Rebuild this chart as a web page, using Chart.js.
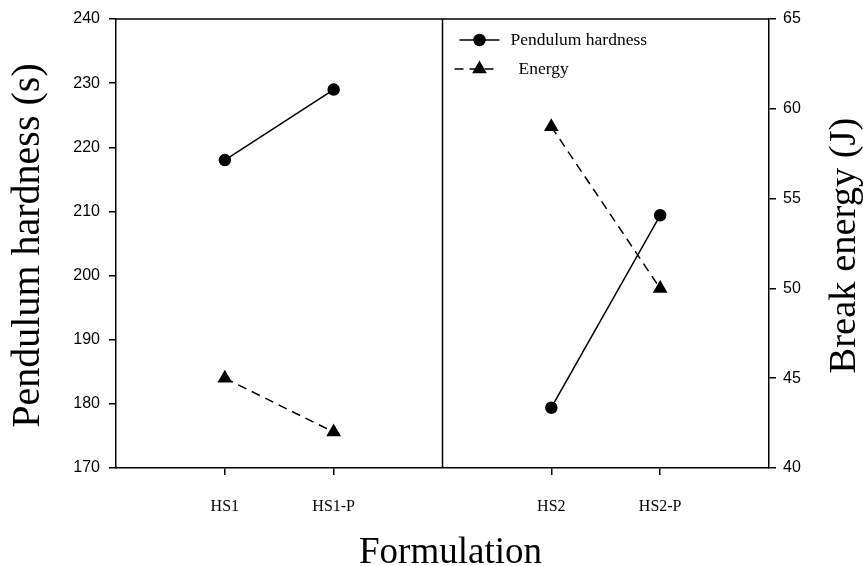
<!DOCTYPE html>
<html>
<head>
<meta charset="utf-8">
<script src="https://cdn.jsdelivr.net/npm/chart.js@4"></script>
<style>
    html, body { margin: 0; padding: 0; background: #fff; }
    #wrap { width: 863px; height: 566px; }
</style>
</head>
<body>
<div id="wrap"><canvas id="chart" width="863" height="566"></canvas></div>
<script>
// --- data ---
const categories = ['HS1', 'HS1-P', 'HS2', 'HS2-P'];
const pendulumHardness = [218, 229, 179.4, 209.4];   // left axis (s)
const breakEnergy = [45, 42, 59, 50];                 // right axis (J)
const hardnessTicks = [170, 180, 190, 200, 210, 220, 230, 240];
const energyTicks = [40, 45, 50, 55, 60, 65];

// two groups of formulations with an empty slot between them (and at both ends)
const slotLabels = ['', categories[0], categories[1], '', categories[2], categories[3], ''];
const dividerIndex = 3;

function toSlots(values) {
    return [null, values[0], values[1], null, values[2], values[3], null];
}

const serif = 'Liberation Serif';
const sans = 'Liberation Sans';

// top border, middle divider, legend and axis titles (both y titles read bottom-to-top)
const framePlugin = {
    id: 'frame',
    afterDatasetsDraw(chart) {
        const { ctx, chartArea: a, scales: { x } } = chart;
        const divX = x.getPixelForValue(dividerIndex);
        const midY = (a.top + a.bottom) / 2 + 2;
        ctx.save();
        ctx.strokeStyle = '#000';
        ctx.lineWidth = 1.5;
        ctx.beginPath();
        ctx.moveTo(a.left, a.top);
        ctx.lineTo(a.right, a.top);
        ctx.moveTo(divX, a.top);
        ctx.lineTo(divX, a.bottom);
        ctx.stroke();

        // legend
        const items = [
            { text: 'Pendulum hardness', dash: [], style: 'circle', r: 5.5, y: a.top + 21, x0: divX + 17, tx: divX + 68 },
            { text: 'Energy', dash: [9, 6], style: 'triangle', r: 7, y: a.top + 50, x0: divX + 12, tx: divX + 76 }
        ];
        ctx.font = '17.5px "' + serif + '"';
        ctx.textBaseline = 'middle';
        ctx.fillStyle = '#000';
        items.forEach(it => {
            ctx.setLineDash(it.dash);
            ctx.lineWidth = 1.5;
            ctx.beginPath();
            ctx.moveTo(it.x0, it.y);
            ctx.lineTo(divX + 57, it.y);
            ctx.stroke();
            ctx.setLineDash([]);
            Chart.helpers.drawPoint(ctx, { pointStyle: it.style, radius: it.r, rotation: 0, borderWidth: 1 }, divX + 37, it.y);
            ctx.fill();
            ctx.fillText(it.text, it.tx, it.y);
        });

        // axis titles
        ctx.textBaseline = 'alphabetic';
        ctx.textAlign = 'center';
        ctx.font = '37px "' + serif + '"';
        ctx.fillText('Formulation', (a.left + a.right) / 2 + 8, chart.height - 3);

        ctx.save();
        ctx.translate(39, midY);
        ctx.rotate(-Math.PI / 2);
        ctx.font = '40px "' + serif + '"';
        ctx.fillText('Pendulum hardness (s)', 0, 0);
        ctx.restore();

        ctx.translate(chart.width - 8, midY);
        ctx.rotate(-Math.PI / 2);
        ctx.font = '38.5px "' + serif + '"';
        ctx.fillText('Break energy (J)', 0, 0);
        ctx.restore();
    }
};

const ctx = document.getElementById('chart').getContext('2d');
new Chart(ctx, {
    type: 'line',
    data: {
        labels: slotLabels,
        datasets: [
            {
                label: 'Pendulum hardness',
                data: toSlots(pendulumHardness),
                yAxisID: 'y',
                borderColor: '#000',
                backgroundColor: '#000',
                borderWidth: 1.5,
                pointStyle: 'circle',
                pointRadius: 5.5,
                spanGaps: false,
                tension: 0
            },
            {
                label: 'Energy',
                data: toSlots(breakEnergy),
                yAxisID: 'y1',
                borderColor: '#000',
                backgroundColor: '#000',
                borderWidth: 1.5,
                borderDash: [9, 6],
                pointStyle: 'triangle',
                pointRadius: 7,
                spanGaps: false,
                tension: 0
            }
        ]
    },
    options: {
        responsive: false,
        animation: false,
        layout: { padding: { top: 19 } },
        plugins: { legend: { display: false }, tooltip: { enabled: false } },
        scales: {
            x: {
                type: 'category',
                offset: false,
                grid: { drawOnChartArea: false, color: '#000', tickLength: 7, lineWidth: 1.5 },
                border: { color: '#000', width: 1.5 },
                ticks: { font: { family: serif, size: 16 }, color: '#000', padding: 22, autoSkip: false, maxRotation: 0 },
                afterBuildTicks: s => { s.ticks = s.ticks.filter(t => slotLabels[t.value] !== ''); },
                afterFit: s => { s.height = 98; }
            },
            y: {
                position: 'left',
                min: 170, max: 240,
                grid: { drawOnChartArea: false, color: '#000', tickLength: 7, lineWidth: 1.5 },
                border: { color: '#000', width: 1.5 },
                ticks: { font: { family: sans, size: 16 }, color: '#000', padding: 9 },
                afterBuildTicks: s => { s.ticks = hardnessTicks.map(v => ({ value: v })); },
                afterFit: s => { s.width = 116; }
            },
            y1: {
                position: 'right',
                min: 40, max: 65,
                grid: { drawOnChartArea: false, color: '#000', tickLength: 7, lineWidth: 1.5 },
                border: { color: '#000', width: 1.5 },
                ticks: { font: { family: sans, size: 16 }, color: '#000', padding: 7 },
                afterBuildTicks: s => { s.ticks = energyTicks.map(v => ({ value: v })); },
                afterFit: s => { s.width = 94; }
            }
        }
    },
    plugins: [framePlugin]
});
</script>
</body>
</html>
